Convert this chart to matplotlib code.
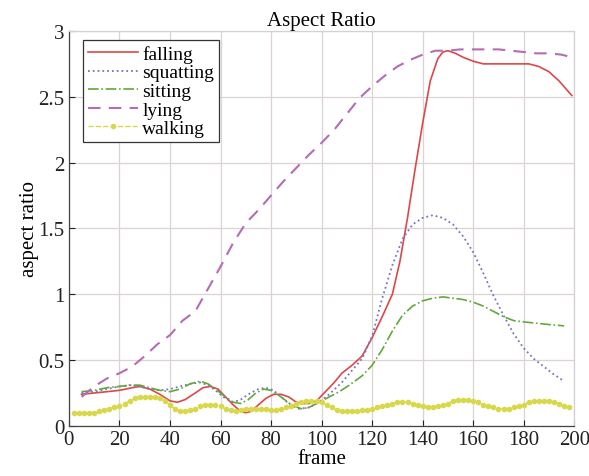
import matplotlib
matplotlib.use("Agg")
import matplotlib.pyplot as plt

plt.rcParams['font.family'] = ['Liberation Serif', 'DejaVu Serif']

fall_x = [5, 10, 15, 20, 25, 28, 32, 36, 40, 43, 46, 50, 53, 56, 59, 62, 65, 68, 70, 72, 75, 78, 81, 84, 87, 90, 93, 95, 98,
          101, 105, 108, 112, 116, 120, 124, 128, 131, 134, 137, 140, 143, 146, 148, 150, 153, 156, 160, 164, 170, 176,
          182, 186, 190, 194, 199]
fall_y = [0.24, 0.25, 0.26, 0.27, 0.29, 0.30, 0.28, 0.24, 0.19, 0.18, 0.20, 0.25, 0.29, 0.30, 0.28, 0.22, 0.16, 0.11, 0.10,
          0.11, 0.16, 0.21, 0.24, 0.24, 0.22, 0.18, 0.17, 0.17, 0.19, 0.25, 0.33, 0.40, 0.46, 0.53, 0.67, 0.83, 1.0, 1.25,
          1.58, 1.95, 2.30, 2.62, 2.79, 2.84, 2.85, 2.83, 2.80, 2.77, 2.75, 2.75, 2.75, 2.75, 2.73, 2.69, 2.62, 2.51]

squat_x = [5, 10, 15, 20, 24, 28, 32, 36, 40, 44, 48, 52, 55, 58, 61, 65, 68, 71, 75, 78, 81, 84, 87, 91, 95, 99, 103, 108,
           112, 116, 120, 124, 128, 132, 136, 140, 144, 148, 152, 156, 160, 164, 168, 172, 176, 180, 184, 188, 192, 196]
squat_y = [0.25, 0.26, 0.28, 0.30, 0.31, 0.30, 0.28, 0.27, 0.28, 0.30, 0.32, 0.33, 0.31, 0.27, 0.22, 0.18, 0.20, 0.24, 0.28,
           0.29, 0.27, 0.22, 0.17, 0.13, 0.14, 0.18, 0.24, 0.33, 0.42, 0.51, 0.68, 0.97, 1.22, 1.42, 1.53, 1.58, 1.60, 1.58,
           1.53, 1.44, 1.32, 1.16, 0.99, 0.84, 0.70, 0.59, 0.51, 0.45, 0.39, 0.34]

sit_x = [5, 10, 15, 20, 25, 28, 32, 36, 40, 44, 48, 52, 55, 58, 62, 65, 68, 71, 74, 77, 80, 84, 88, 92, 95, 99, 103, 107,
         111, 116, 120, 124, 128, 132, 136, 140, 144, 148, 152, 156, 160, 164, 168, 172, 176, 180, 185, 190, 196]
sit_y = [0.26, 0.27, 0.29, 0.30, 0.31, 0.31, 0.29, 0.27, 0.26, 0.28, 0.32, 0.34, 0.32, 0.28, 0.22, 0.18, 0.17, 0.20, 0.25,
         0.28, 0.27, 0.22, 0.16, 0.13, 0.14, 0.18, 0.22, 0.26, 0.31, 0.38, 0.46, 0.58, 0.72, 0.84, 0.91, 0.95, 0.97, 0.98,
         0.97, 0.96, 0.94, 0.91, 0.87, 0.83, 0.80, 0.79, 0.78, 0.77, 0.76]

lie_x = [5, 10, 15, 20, 25, 30, 35, 40, 45, 50, 55, 60, 65, 70, 75, 80, 85, 90, 95, 100, 105, 110, 115, 120, 125, 130, 135,
         140, 145, 150, 155, 160, 165, 170, 175, 180, 185, 190, 195, 199]
lie_y = [0.22, 0.30, 0.36, 0.40, 0.45, 0.53, 0.62, 0.69, 0.80, 0.87, 1.04, 1.21, 1.39, 1.54, 1.64, 1.75, 1.86, 1.96, 2.06,
         2.15, 2.25, 2.37, 2.49, 2.58, 2.66, 2.73, 2.78, 2.82, 2.85, 2.85, 2.86, 2.86, 2.86, 2.86, 2.85, 2.84, 2.83, 2.83,
         2.82, 2.80]

walk_x = list(range(2, 200, 2))
walk_y = [0.10, 0.10, 0.10, 0.10, 0.10, 0.11, 0.12, 0.13, 0.14, 0.15, 0.17, 0.19, 0.21, 0.22, 0.22, 0.22, 0.22, 0.21, 0.19,
          0.16, 0.13, 0.11, 0.11, 0.12, 0.13, 0.15, 0.16, 0.16, 0.16, 0.15, 0.13, 0.12, 0.11, 0.12, 0.13, 0.13, 0.13, 0.13,
          0.13, 0.12, 0.12, 0.13, 0.14, 0.15, 0.17, 0.18, 0.19, 0.19, 0.19, 0.18, 0.16, 0.14, 0.12, 0.11, 0.11, 0.11, 0.11,
          0.12, 0.12, 0.13, 0.14, 0.15, 0.16, 0.17, 0.18, 0.18, 0.18, 0.17, 0.16, 0.15, 0.14, 0.14, 0.15, 0.16, 0.17, 0.19,
          0.20, 0.20, 0.20, 0.19, 0.18, 0.16, 0.15, 0.14, 0.13, 0.13, 0.13, 0.14, 0.15, 0.16, 0.18, 0.19, 0.19, 0.19, 0.19,
          0.18, 0.17, 0.15, 0.14]

labels = ['falling', 'squatting', 'sitting', 'lying', 'walking']
x_ticks = [0, 20, 40, 60, 80, 100, 120, 140, 160, 180, 200]
y_ticks = [0, 0.5, 1, 1.5, 2, 2.5, 3]
y_ticklabels = ['0', '0.5', '1', '1.5', '2', '2.5', '3']

fig = plt.figure(figsize=(5.89, 4.77), dpi=100)
ax = fig.add_axes([0.117, 0.105, 0.858, 0.828])

ax.plot(fall_x, fall_y, '-', color='#dc4848', lw=1.2, label=labels[0])
ax.plot(squat_x, squat_y, ':', color='#7474c4', lw=1.3, label=labels[1])
ax.plot(sit_x, sit_y, '-.', color='#62a83a', lw=1.2, label=labels[2])
ax.plot(lie_x, lie_y, '--', color='#b46cb4', lw=1.5, dashes=(6, 4), label=labels[3])
ax.plot(walk_x, walk_y, '--', color='#d8d84a', lw=1.0, marker='o', ms=3.0, mec='#d8d84a', mfc='#d8d84a',
        label=labels[4])

ax.set_xlim(0, 200)
ax.set_ylim(0, 3)
ax.set_xticks(x_ticks)
ax.set_yticks(y_ticks)
ax.set_yticklabels(y_ticklabels)
ax.grid(True, color='#ddd3d3', lw=0.9)
ax.set_axisbelow(True)
ax.tick_params(direction='in', length=4, width=0.8, labelsize=15, colors='#222222', pad=3,
               top=False, right=False)
for s in ['left', 'bottom']:
    ax.spines[s].set_color('#444444')
    ax.spines[s].set_linewidth(0.9)
for s in ['top', 'right']:
    ax.spines[s].set_color('#d8d0d0')
    ax.spines[s].set_linewidth(0.9)

ax.set_title('Aspect Ratio', fontsize=15, pad=4)
ax.set_xlabel('frame', fontsize=15, labelpad=0)
ax.set_ylabel('aspect ratio', fontsize=15, labelpad=0)

leg = ax.legend(loc='upper left', bbox_to_anchor=(0.028, 0.977), fontsize=14, handlelength=2.6,
                handletextpad=0.2, labelspacing=0.05, borderpad=0.25, borderaxespad=0,
                frameon=True, fancybox=False, framealpha=1, edgecolor='#333333')
leg.get_frame().set_linewidth(0.9)

fig.savefig('out.png', dpi=100)
